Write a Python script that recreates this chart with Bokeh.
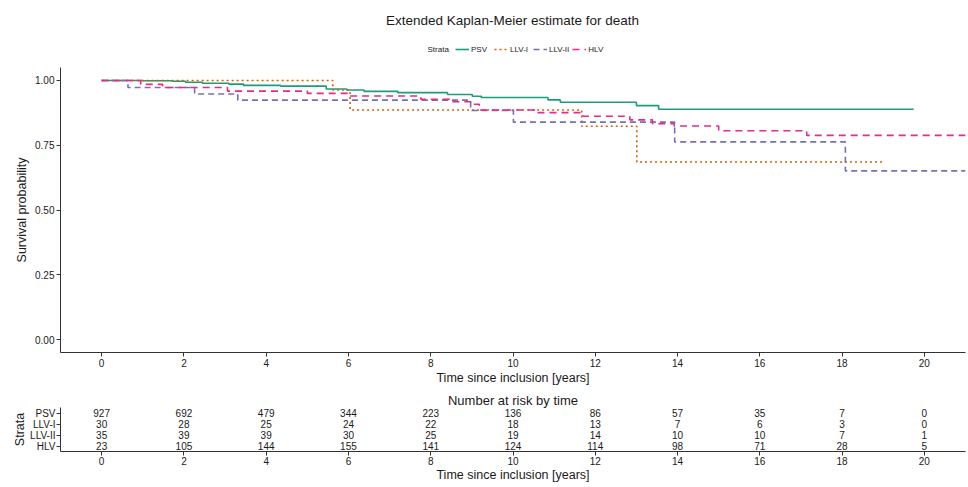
from bokeh.plotting import figure
from bokeh.models import (Range1d, FactorRange, FixedTicker, Legend, Label,
                          LegendItem, NumeralTickFormatter, ColumnDataSource)
from bokeh.layouts import column
from bokeh.embed import file_html
from bokeh.resources import INLINE
from bokeh.core.properties import value

FONT = "Liberation Sans"

# ---------------- data ----------------
strata = ["PSV", "LLV-I", "LLV-II", "HLV"]
colors = ["#1B9E77", "#D95F02", "#7570B3", "#E7298A"]
dashes = ["solid", "2 3", "6 4", "7 5"]

psv_t = [0, 1.0, 1.72, 2.04, 2.45, 3.09, 3.45, 4.35, 5.46, 5.96, 6.38, 7.2, 8.41,
         9.01, 9.23, 10.85, 11.15, 13.0, 13.54, 19.74]
psv_s = [1.0, 0.999, 0.997, 0.993, 0.989, 0.986, 0.981, 0.978, 0.967, 0.963, 0.958,
         0.953, 0.946, 0.939, 0.934, 0.925, 0.916, 0.903, 0.889, 0.889]

llv1_t = [0, 5.62, 6.04, 11.67, 13.01, 18.98]
llv1_s = [1.0, 0.963, 0.886, 0.823, 0.685, 0.685]

llv2_t = [0, 0.64, 2.26, 3.31, 8.97, 10.01, 13.93, 18.08, 21.0]
llv2_s = [1.0, 0.973, 0.948, 0.924, 0.884, 0.839, 0.763, 0.651, 0.651]

hlv_t = [0, 0.95, 1.48, 3.06, 5.0, 5.99, 7.76, 8.49, 8.97, 9.18, 10.55, 11.7,
         12.84, 13.39, 13.92, 15.0, 17.14, 21.0]
hlv_s = [1.0, 0.985, 0.973, 0.959, 0.950, 0.940, 0.927, 0.918, 0.908, 0.886,
         0.876, 0.862, 0.848, 0.833, 0.824, 0.806, 0.788, 0.788]

risk_times = [0, 2, 4, 6, 8, 10, 12, 14, 16, 18, 20]
risk_psv = [927, 692, 479, 344, 223, 136, 86, 57, 35, 7, 0]
risk_llv1 = [30, 28, 25, 24, 22, 18, 13, 7, 6, 3, 0]
risk_llv2 = [35, 39, 39, 30, 25, 19, 14, 10, 10, 7, 1]
risk_hlv = [23, 105, 144, 155, 141, 124, 114, 98, 71, 28, 5]

x_ticks = [0, 2, 4, 6, 8, 10, 12, 14, 16, 18, 20]
y_ticks = [0, 0.25, 0.5, 0.75, 1.0]

curves = [(psv_t, psv_s), (llv1_t, llv1_s), (llv2_t, llv2_s), (hlv_t, hlv_s)]
risks = [risk_psv, risk_llv1, risk_llv2, risk_hlv]

TEXT = "#1a1a1a"
LINE = "#333333"
W = 968
LEFT = 60   # frame left edge, shared by all stacked figures


def style_axes(fig):
    for ax in fig.axis:
        ax.axis_line_color = LINE
        ax.axis_line_width = 1
        ax.major_tick_line_color = LINE
        ax.major_tick_out = 4
        ax.major_tick_in = 0
        ax.minor_tick_line_color = None
        ax.major_label_text_font = FONT
        ax.major_label_text_color = TEXT
        ax.axis_label_text_font = FONT
        ax.axis_label_text_font_style = "normal"
        ax.axis_label_text_color = TEXT
        ax.major_label_standoff = 2
        ax.axis_label_standoff = 1


# ---------------- header: title + legend ----------------
HH = 67
h = figure(width=W, height=HH, min_border=0, x_axis_location=None,
           y_axis_location=None, x_range=Range1d(0, 1), y_range=Range1d(0, 1),
           output_backend="svg", toolbar_location=None)
h.outline_line_color = None
h.grid.visible = False

h.add_layout(Label(x=512 - LEFT, y=HH - 20, x_units="screen", y_units="screen",
                   text="Extended Kaplan-Meier estimate for death", text_font=FONT,
                   text_font_size="13.5px", text_color=TEXT, text_align="center",
                   text_baseline="middle"))
h.add_layout(Label(x=427 - LEFT, y=HH - 49, x_units="screen", y_units="screen",
                   text="Strata", text_font=FONT, text_font_size="8px",
                   text_color=TEXT, text_align="left", text_baseline="middle"))

leg_items = []
for name, col, dash in zip(strata, colors, dashes):
    src = ColumnDataSource(dict(t=[float("nan")], s=[float("nan")]))
    r = h.line("t", "s", source=src, line_color=col, line_width=1.6, line_dash=dash)
    leg_items.append(LegendItem(label=name, renderers=[r]))

legend = Legend(items=leg_items, orientation="horizontal",
                location=(455 - LEFT, HH - 55),
                glyph_width=14, glyph_height=12, label_height=12,
                label_standoff=2, spacing=3, padding=0, margin=0,
                border_line_alpha=0, background_fill_alpha=0,
                label_text_font=FONT, label_text_font_size="8px",
                label_text_color=TEXT)
h.add_layout(legend, "center")

# ---------------- main KM plot ----------------
FW = 905
FH = 285
p = figure(frame_width=FW, frame_height=FH, min_border_left=LEFT, min_border_right=3,
           min_border_top=0, min_border_bottom=0,
           x_range=Range1d(-1, 21), y_range=Range1d(-0.05, 1.05),
           output_backend="svg", toolbar_location=None)
p.outline_line_color = None
p.grid.visible = False

for name, (tt, ss), col, dash in zip(strata, curves, colors, dashes):
    src = ColumnDataSource(dict(t=tt, s=ss))
    p.step("t", "s", source=src, mode="after", line_color=col,
           line_width=1.6, line_dash=dash)

p.xaxis.ticker = FixedTicker(ticks=x_ticks)
p.yaxis.ticker = FixedTicker(ticks=y_ticks)
p.yaxis.formatter = NumeralTickFormatter(format="0.00")
p.xaxis.axis_label = "Time since inclusion [years]"
p.yaxis.axis_label = "Survival probability"
style_axes(p)
p.xaxis.major_label_text_font_size = "10px"
p.yaxis.major_label_text_font_size = "10px"
p.xaxis.axis_label_text_font_size = "12.5px"
p.yaxis.axis_label_text_font_size = "12.5px"
p.yaxis.axis_label_standoff = 3

# ---------------- risk table ----------------
TH = 44
t = figure(frame_width=FW, frame_height=TH, min_border_left=LEFT, min_border_right=3,
           min_border_top=20, min_border_bottom=0,
           x_range=Range1d(-1, 21), y_range=FactorRange(factors=strata[::-1]),
           title="Number at risk by time",
           output_backend="svg", toolbar_location=None)
t.outline_line_color = None
t.grid.visible = False
t.title.align = "center"
t.title.text_font = FONT
t.title.text_font_size = "13px"
t.title.text_font_style = "normal"
t.title.text_color = TEXT
t.title.standoff = 0

for name, counts in zip(strata, risks):
    src = ColumnDataSource(dict(x=risk_times, y=[name] * len(risk_times),
                                txt=[str(c) for c in counts]))
    t.text("x", "y", text="txt", source=src, text_align="center",
           text_baseline="middle", text_font=value(FONT), text_font_size="10px",
           text_color=TEXT)

t.xaxis.ticker = FixedTicker(ticks=x_ticks)
t.xaxis.axis_label = "Time since inclusion [years]"
t.yaxis.axis_label = "Strata"
style_axes(t)
t.xaxis.major_label_text_font_size = "10px"
t.yaxis.major_label_text_font_size = "10px"
t.xaxis.axis_label_text_font_size = "12.5px"
t.yaxis.axis_label_text_font_size = "12.5px"
t.xaxis.major_label_standoff = 1
t.yaxis.major_label_standoff = 1
t.yaxis.axis_label_standoff = 0
t.xaxis.axis_label_standoff = 0

layout = column(h, p, t, spacing=0)
open("out.html", "w").write(file_html(layout, INLINE))
